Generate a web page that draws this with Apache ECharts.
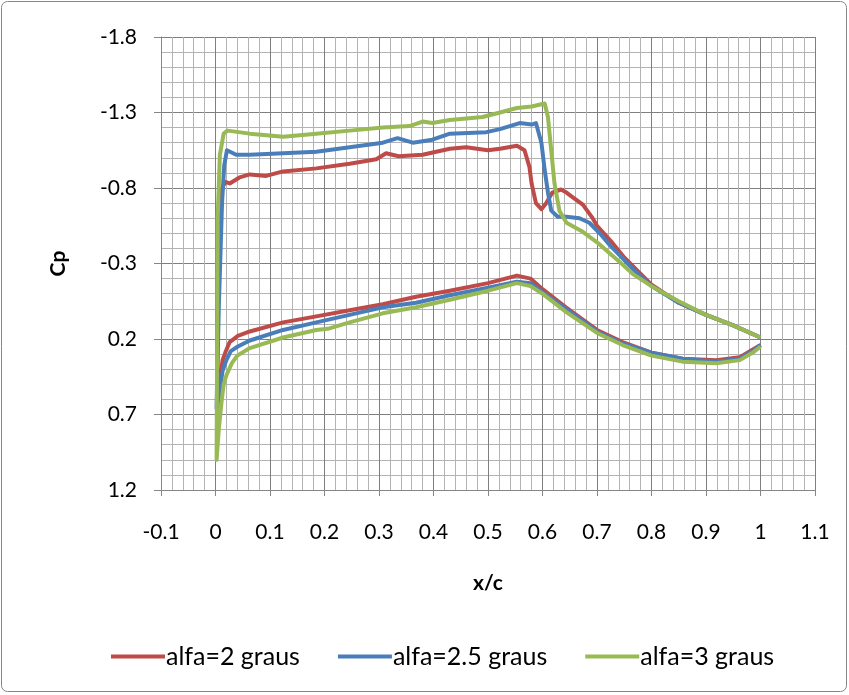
<!DOCTYPE html>
<html>
<head>
<meta charset="utf-8">
<script src="https://cdn.jsdelivr.net/npm/echarts@6/dist/echarts.min.js"></script>
<style>
  html, body { margin: 0; padding: 0; background: #fff; }
  #chart { width: 849px; height: 695px; }
</style>
</head>
<body>
<div id="chart"></div>
<script>
// Cp distribution along the chord, upper surface from TE to LE, then lower surface back to TE
const redX = [1.0, 0.95, 0.9, 0.85, 0.825, 0.8, 0.775, 0.75, 0.725, 0.7, 0.692, 0.674, 0.655, 0.644, 0.634, 0.618, 0.607, 0.598, 0.588, 0.58, 0.576, 0.567, 0.553, 0.522, 0.5, 0.46, 0.43, 0.38, 0.336, 0.313, 0.295, 0.246, 0.185, 0.124, 0.093, 0.063, 0.044, 0.026, 0.018, 0.012, 0.008, 0.004,
  0.003, 0.004, 0.008, 0.013, 0.018, 0.026, 0.041, 0.063, 0.124, 0.185, 0.246, 0.307, 0.368, 0.43, 0.5, 0.553, 0.578, 0.6, 0.643, 0.7, 0.747, 0.8, 0.857, 0.919, 0.962, 0.986, 1.0];
const redCp = [0.19, 0.11, 0.04, -0.04, -0.10, -0.16, -0.25, -0.34, -0.45, -0.55, -0.60, -0.69, -0.74, -0.77, -0.79, -0.77, -0.70, -0.66, -0.70, -0.83, -0.94, -1.05, -1.08, -1.06, -1.05, -1.07, -1.06, -1.02, -1.01, -1.03, -0.99, -0.96, -0.93, -0.91, -0.88, -0.89, -0.87, -0.83, -0.84, -0.80, -0.50, 0.0,
  0.70, 0.62, 0.48, 0.34, 0.29, 0.22, 0.18, 0.15, 0.09, 0.05, 0.01, -0.03, -0.08, -0.12, -0.17, -0.22, -0.20, -0.13, -0.01, 0.14, 0.22, 0.29, 0.33, 0.34, 0.32, 0.27, 0.24];

const blueX = [1.0, 0.95, 0.9, 0.85, 0.8, 0.767, 0.724, 0.705, 0.686, 0.668, 0.644, 0.628, 0.616, 0.61, 0.604, 0.598, 0.588, 0.58, 0.558, 0.522, 0.497, 0.43, 0.398, 0.362, 0.334, 0.307, 0.246, 0.185, 0.124, 0.063, 0.038, 0.021, 0.016, 0.012, 0.006,
  0.002, 0.007, 0.013, 0.02, 0.028, 0.041, 0.063, 0.124, 0.185, 0.246, 0.307, 0.368, 0.43, 0.5, 0.553, 0.578, 0.6, 0.643, 0.7, 0.747, 0.8, 0.857, 0.919, 0.962, 0.986, 1.0];
const blueCp = [0.19, 0.11, 0.04, -0.04, -0.15, -0.26, -0.42, -0.50, -0.57, -0.60, -0.61, -0.61, -0.65, -0.77, -0.92, -1.10, -1.23, -1.22, -1.23, -1.19, -1.17, -1.16, -1.12, -1.10, -1.13, -1.10, -1.07, -1.04, -1.03, -1.02, -1.02, -1.05, -0.95, -0.70, 0.0,
  0.66, 0.56, 0.41, 0.34, 0.28, 0.25, 0.21, 0.14, 0.09, 0.04, -0.01, -0.04, -0.09, -0.14, -0.18, -0.17, -0.11, 0.00, 0.15, 0.23, 0.29, 0.33, 0.35, 0.33, 0.28, 0.24];

const greenX = [1.0, 0.95, 0.9, 0.85, 0.8, 0.766, 0.748, 0.7, 0.674, 0.644, 0.631, 0.622, 0.616, 0.61, 0.604, 0.58, 0.553, 0.522, 0.49, 0.43, 0.398, 0.38, 0.356, 0.307, 0.246, 0.185, 0.124, 0.063, 0.022, 0.015, 0.008, 0.004,
  0.002, 0.006, 0.011, 0.015, 0.02, 0.03, 0.04, 0.063, 0.124, 0.185, 0.209, 0.246, 0.307, 0.368, 0.43, 0.5, 0.553, 0.578, 0.6, 0.643, 0.7, 0.747, 0.8, 0.857, 0.919, 0.962, 0.986, 1.0];
const greenCp = [0.19, 0.11, 0.04, -0.05, -0.15, -0.23, -0.29, -0.44, -0.51, -0.57, -0.65, -0.83, -1.05, -1.27, -1.36, -1.34, -1.33, -1.30, -1.27, -1.25, -1.23, -1.24, -1.21, -1.20, -1.18, -1.16, -1.14, -1.16, -1.18, -1.16, -1.02, -0.60,
  1.00, 0.80, 0.62, 0.50, 0.44, 0.36, 0.31, 0.26, 0.19, 0.14, 0.13, 0.09, 0.03, -0.01, -0.06, -0.12, -0.17, -0.15, -0.10, 0.02, 0.16, 0.24, 0.31, 0.35, 0.36, 0.34, 0.29, 0.25];

const seriesNames = ['alfa=2 graus', 'alfa=2.5 graus', 'alfa=3 graus'];
const seriesColors = ['#BE4B48', '#4A7EBB', '#98B954'];

function pairs(xs, ys) {
    return xs.map(function (x, i) { return [x, ys[i]]; });
}

const fontFamily = 'Lato, "Liberation Sans", sans-serif';
const fmt = function (v) { return String(Math.round(v * 10) / 10); };

const chart = echarts.init(document.getElementById('chart'));
chart.setOption({
    animation: false,
    backgroundColor: '#fff',
    textStyle: { fontFamily: fontFamily },
    graphic: [{
        type: 'rect',
        shape: { x: 1.5, y: 1.5, width: 845, height: 690, r: 6 },
        style: { fill: 'none', stroke: '#868686', lineWidth: 1 },
        silent: true
    }],
    grid: { left: 161, right: 34, top: 37, bottom: 205, containLabel: false },
    legend: {
        bottom: 21,
        left: 106,
        itemWidth: 54,
        itemHeight: 4,
        itemGap: 38,
        icon: 'rect',
        textStyle: { fontSize: 25, color: '#000', fontFamily: fontFamily, padding: [0, 0, 0, -4] },
        data: seriesNames
    },
    xAxis: {
        type: 'value',
        min: -0.1,
        max: 1.1,
        interval: 0.1,
        name: 'x/c',
        nameLocation: 'middle',
        nameGap: 83,
        nameTextStyle: { fontSize: 21, fontWeight: 'bold', color: '#000' },
        axisLine: { show: true, onZero: false, lineStyle: { color: '#868686', width: 1 } },
        axisTick: { show: true, length: 6, lineStyle: { color: '#868686' } },
        axisLabel: { fontSize: 21, color: '#000', margin: 32, formatter: fmt },
        splitLine: { show: true, lineStyle: { color: '#7F7F7F', width: 1 } },
        minorTick: { show: false, splitNumber: 5 },
        minorSplitLine: { show: true, lineStyle: { color: '#B3B3B3', width: 1 } }
    },
    yAxis: {
        type: 'value',
        inverse: true,
        min: -1.8,
        max: 1.2,
        interval: 0.5,
        name: 'Cp',
        nameLocation: 'middle',
        nameGap: 92,
        nameRotate: 90,
        nameTextStyle: { fontSize: 21, fontWeight: 'bold', color: '#000' },
        axisLine: { show: true, onZero: false, lineStyle: { color: '#868686', width: 1 } },
        axisTick: { show: true, length: 7, lineStyle: { color: '#868686' } },
        axisLabel: { fontSize: 21, color: '#000', margin: 24, formatter: fmt },
        splitLine: { show: true, lineStyle: { color: '#7F7F7F', width: 1 } },
        minorTick: { show: false, splitNumber: 5 },
        minorSplitLine: { show: true, lineStyle: { color: '#B3B3B3', width: 1 } }
    },
    series: [
        { name: seriesNames[0], data: pairs(redX, redCp) },
        { name: seriesNames[1], data: pairs(blueX, blueCp) },
        { name: seriesNames[2], data: pairs(greenX, greenCp) }
    ].map(function (s, i) {
        return {
            name: s.name,
            type: 'line',
            data: s.data,
            showSymbol: false,
            symbol: 'none',
            color: seriesColors[i],
            lineStyle: { color: seriesColors[i], width: 4, join: 'round' },
            z: 2 + i
        };
    })
});
</script>
</body>
</html>
